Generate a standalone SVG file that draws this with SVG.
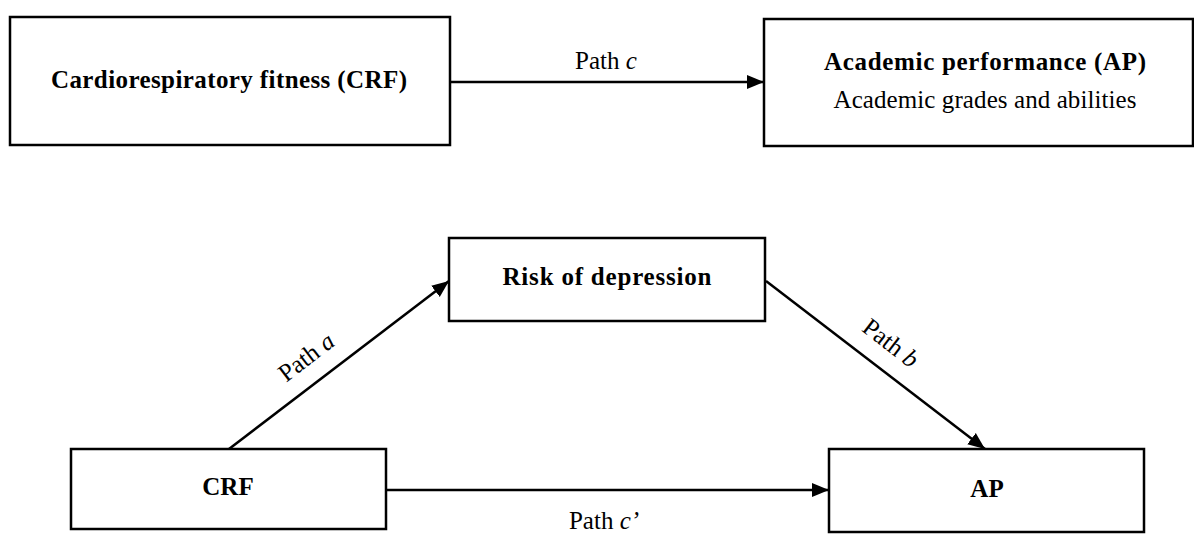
<svg xmlns="http://www.w3.org/2000/svg" width="1194" height="534" viewBox="0 0 1194 534">
  <style>
    .box { fill: #ffffff; stroke: #000000; stroke-width: 2.5; }
    .t { font-family: "Liberation Serif", "Times New Roman", serif; font-size: 25px; fill: #000000; text-anchor: middle; }
    .b { font-weight: bold; }
    .lbl { font-family: "Liberation Serif", "Times New Roman", serif; font-size: 25px; fill: #000000; text-anchor: middle; }
    .edge { fill: none; stroke: #000000; stroke-width: 2.5; marker-end: url(#arrow); }
  </style>
  <defs>
    <marker id="arrow" markerUnits="userSpaceOnUse" markerWidth="17" markerHeight="15" refX="17" refY="7.5" orient="auto">
      <path d="M0,0.5 L17,7.5 L0,14.5 z" fill="#000000"/>
    </marker>
  </defs>
  <rect x="0" y="0" width="1194" height="534" fill="#ffffff"/>

  <g id="node-crf-top">
    <rect class="box" x="10" y="17" width="440" height="128"/>
    <text class="t b" x="229" y="88" textLength="356" lengthAdjust="spacing">Cardiorespiratory fitness (CRF)</text>
  </g>

  <g id="node-ap-top">
    <rect class="box" x="764" y="19" width="429" height="127"/>
    <text class="t b" x="985" y="70" textLength="322" lengthAdjust="spacing">Academic performance (AP)</text>
    <text class="t" x="985" y="108" textLength="303" lengthAdjust="spacing">Academic grades and abilities</text>
  </g>

  <g id="node-depression">
    <rect class="box" x="449" y="238" width="316" height="83"/>
    <text class="t b" x="607" y="285" textLength="209" lengthAdjust="spacing">Risk of depression</text>
  </g>

  <g id="node-crf">
    <rect class="box" x="71" y="449" width="315" height="80"/>
    <text class="t b" x="228" y="495">CRF</text>
  </g>

  <g id="node-ap">
    <rect class="box" x="829" y="449" width="315" height="83"/>
    <text class="t b" x="987" y="497">AP</text>
  </g>

  <g id="connectors">
    <line class="edge" x1="450" y1="82" x2="764" y2="82"/>
    <line class="edge" x1="229" y1="449" x2="449" y2="281"/>
    <line class="edge" x1="766" y1="281" x2="985" y2="449"/>
    <line class="edge" x1="386" y1="490" x2="829" y2="490"/>

    <text class="lbl" x="606" y="69">Path <tspan font-style="italic">c</tspan></text>
    <g transform="translate(307,358) rotate(-37.4)">
      <text class="lbl" x="0" y="7">Path <tspan font-style="italic">a</tspan></text>
    </g>
    <g transform="translate(890,344) rotate(37.6)">
      <text class="lbl" x="0" y="7">Path <tspan font-style="italic">b</tspan></text>
    </g>
    <text class="lbl" x="604" y="529">Path <tspan font-style="italic">c’</tspan></text>
  </g>
</svg>
